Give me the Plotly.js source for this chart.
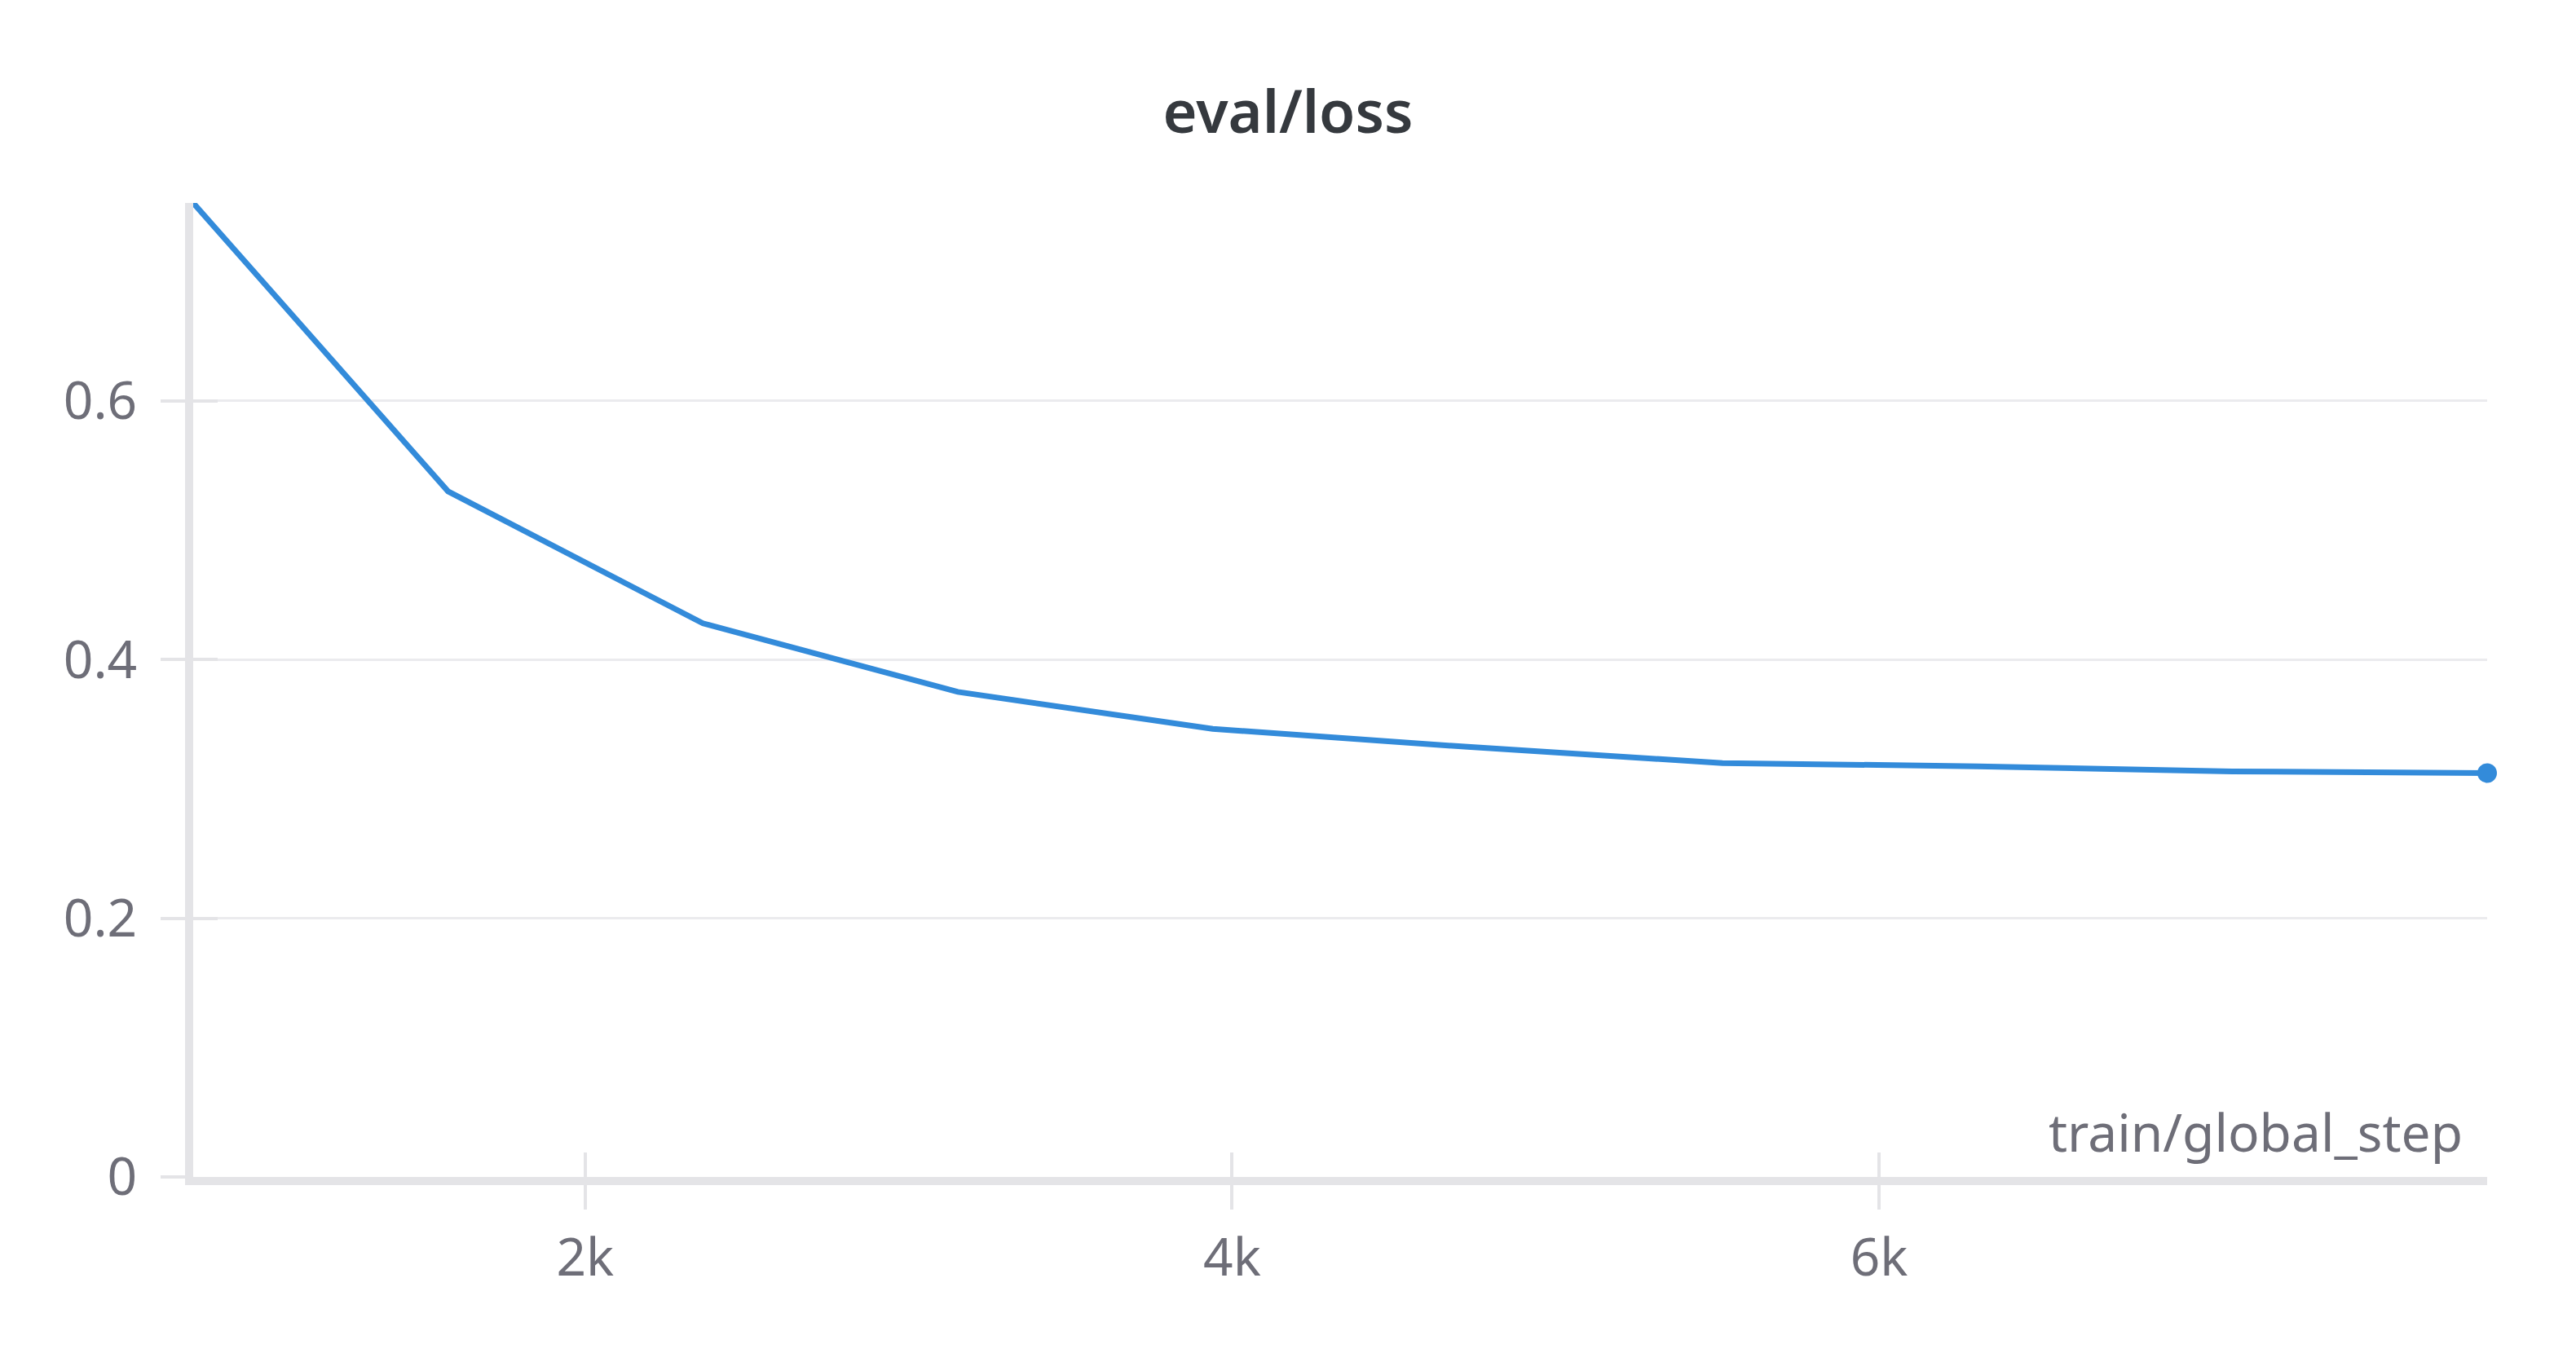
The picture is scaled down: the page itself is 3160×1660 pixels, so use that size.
<!DOCTYPE html>
<html>
<head>
<meta charset="utf-8">
<script src="https://cdn.plot.ly/plotly-3.0.1.min.js"></script>
<style>
  html, body { margin: 0; padding: 0; background: #ffffff; }
  #chart { width: 3160px; height: 1660px; }
</style>
</head>
<body>
<div id="chart"></div>
<script>
// ---- data ----
const steps = [788, 1576, 2364, 3152, 3940, 4728, 5516, 6304, 7092, 7880];
const evalLoss = [0.753, 0.530, 0.428, 0.375, 0.3464, 0.3325, 0.320, 0.3175, 0.3135, 0.3122];
const xTickVals = [2000, 4000, 6000];
const xTickText = ["2k", "4k", "6k"];
const yTickVals = [0, 0.2, 0.4, 0.6];
const yTickText = ["0", "0.2", "0.4", "0.6"];
const chartTitle = "eval/loss";
const xLabel = "train/global_step";

// ---- style ----
const lineColor = "#338bda";
const axisColor = "#e4e4e7";
const gridColor = "#ebebee";
const tickColor = "#e4e4e7";
const labelColor = "#6e6e78";
const fontFamily = "'Noto Sans', 'Open Sans', sans-serif";

const xRange = [steps[0], steps[steps.length - 1]];
const yRange = [0, Math.max(...evalLoss)];

const lastIdx = steps.length - 1;

const traces = [
  {
    type: "scatter",
    mode: "lines",
    x: steps,
    y: evalLoss,
    line: { color: lineColor, width: 7 },
    hoverinfo: "x+y",
    xaxis: "x",
    yaxis: "y"
  },
  {
    type: "scatter",
    mode: "markers",
    x: [steps[lastIdx]],
    y: [evalLoss[lastIdx]],
    marker: { color: lineColor, size: 24 },
    cliponaxis: false,
    hoverinfo: "x+y",
    xaxis: "x2",
    yaxis: "y2"
  }
];

const baseX = {
  range: xRange,
  tickvals: xTickVals,
  ticktext: xTickText,
  ticklen: 30,
  tickwidth: 4,
  tickcolor: tickColor,
  showgrid: false,
  zeroline: false,
  fixedrange: true
};
const baseY = {
  range: yRange,
  tickvals: yTickVals,
  ticktext: yTickText,
  ticklen: 30,
  tickwidth: 4,
  tickcolor: tickColor,
  zeroline: false,
  fixedrange: true
};

const layout = {
  width: 3160,
  height: 1660,
  paper_bgcolor: "#ffffff",
  plot_bgcolor: "#ffffff",
  showlegend: false,
  margin: { l: 237, r: 109, t: 249, b: 216, pad: 0 },
  font: { family: fontFamily, color: labelColor, size: 64 },
  title: {
    text: chartTitle,
    font: { family: fontFamily, size: 72, color: "#35393e", weight: 600 },
    x: 0.5,
    xanchor: "center",
    xref: "container",
    yref: "container",
    y: 1 - 138 / 1660,
    yanchor: "middle"
  },
  xaxis: Object.assign({}, baseX, {
    ticks: "outside",
    showline: true,
    linecolor: axisColor,
    linewidth: 10,
    ticklabelstandoff: 4,
    tickfont: { family: fontFamily, size: 64, color: labelColor },
    anchor: "y"
  }),
  xaxis2: Object.assign({}, baseX, {
    ticks: "inside",
    showline: false,
    showticklabels: false,
    overlaying: "x",
    anchor: "y",
    side: "bottom"
  }),
  yaxis: Object.assign({}, baseY, {
    ticks: "outside",
    showline: true,
    linecolor: axisColor,
    linewidth: 10,
    showgrid: true,
    gridcolor: gridColor,
    gridwidth: 3,
    ticklabelstandoff: 16,
    tickfont: { family: fontFamily, size: 64, color: labelColor },
    anchor: "x"
  }),
  yaxis2: Object.assign({}, baseY, {
    ticks: "inside",
    showline: false,
    showgrid: false,
    showticklabels: false,
    overlaying: "y",
    anchor: "x",
    side: "left"
  }),
  annotations: [
    {
      text: xLabel,
      xref: "paper",
      yref: "paper",
      x: 0.99,
      y: 0,
      xanchor: "right",
      yanchor: "bottom",
      yshift: 10,
      showarrow: false,
      font: { family: fontFamily, size: 64, color: labelColor }
    }
  ]
};

Plotly.newPlot("chart", traces, layout, { displayModeBar: false, staticPlot: true });
</script>
</body>
</html>
